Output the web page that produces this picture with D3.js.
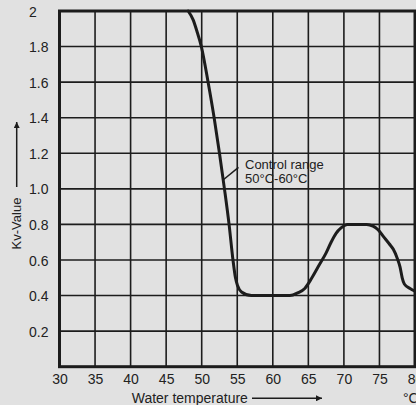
<!DOCTYPE html>
<html><head><meta charset="utf-8">
<script src="https://cdn.jsdelivr.net/npm/d3@7"></script>
<style>html,body{margin:0;padding:0;background:#e1e1e1;overflow:hidden}</style>
</head><body>
<script>
const temps = [48.1, 48.8, 49.3, 49.95, 50.9, 51.75, 52.5, 53.2, 53.85, 54.4, 54.75, 55.05, 55.6, 57.0, 62.4, 63.5, 64.5, 65.5, 66.5, 67.5, 68.2, 68.9, 69.6, 70.5, 73.2, 74.1, 74.8, 75.6, 76.4, 76.95, 77.5, 77.9, 78.2, 78.5, 79.3, 80.0];
const kv    = [2.0, 1.95, 1.89, 1.8, 1.6, 1.4, 1.2, 1.0, 0.8, 0.6, 0.5, 0.455, 0.42, 0.40, 0.40, 0.415, 0.44, 0.50, 0.57, 0.64, 0.70, 0.75, 0.78, 0.80, 0.80, 0.79, 0.77, 0.73, 0.69, 0.66, 0.61, 0.56, 0.50, 0.465, 0.44, 0.425];
const xTicks = [30, 35, 40, 45, 50, 55, 60, 65, 70, 75, 80];
const yTicks = [0.2, 0.4, 0.6, 0.8, 1.0, 1.2, 1.4, 1.6, 1.8, 2];
const yLabels = ["0.2", "0.4", "0.6", "0.8", "1.0", "1.2", "1.4", "1.6", "1.8", "2"];
const xTitle = "Water temperature";
const yTitle = "Kv-Value";
const unit = "°C";
const noteLines = ["Control range", "50°C-60°C"];

const W = 416, H = 405;
const ink = "#1c1c1c";
const font = "'Liberation Sans', Arial, sans-serif";
const x = d3.scaleLinear().domain([30, 80]).range([59.5, 415]);
const y = d3.scaleLinear().domain([0, 2]).range([366.7, 11]);

const svg = d3.select("body").append("svg").attr("width", W).attr("height", H)
  .style("font-family", font);
svg.append("rect").attr("width", W).attr("height", H).attr("fill", "#e1e1e1");

svg.append("defs").append("marker").attr("id", "ah").attr("viewBox", "0 0 10 10")
  .attr("refX", 10).attr("refY", 5).attr("markerWidth", 10).attr("markerHeight", 6)
  .attr("markerUnits", "userSpaceOnUse").attr("orient", "auto")
  .append("path").attr("d", "M0,0L10,5L0,10Z").attr("fill", ink);

// grid
const g = svg.append("g");
g.selectAll(".vg").data(xTicks.slice(1, -1)).join("line")
  .attr("x1", d => x(d)).attr("x2", d => x(d)).attr("y1", y(0)).attr("y2", y(2))
  .attr("stroke", ink).attr("stroke-width", 1.6);
g.selectAll(".hg").data(yTicks.slice(0, -1)).join("line")
  .attr("y1", d => y(d)).attr("y2", d => y(d)).attr("x1", x(30)).attr("x2", x(80))
  .attr("stroke", ink).attr("stroke-width", 1.6);

// curve
const line = d3.line().x((d, i) => x(temps[i])).y(d => y(d)).curve(d3.curveMonotoneX);
svg.append("path").attr("d", line(kv)).attr("fill", "none").attr("stroke", ink)
  .attr("stroke-width", 3).attr("stroke-linejoin", "round").attr("stroke-linecap", "round");

// frame
svg.append("rect").attr("x", x(30)).attr("y", y(2)).attr("width", x(80) - x(30)).attr("height", y(0) - y(2))
  .attr("fill", "none").attr("stroke", ink).attr("stroke-width", 3);

// axes (labels only)
const xa = svg.append("g").attr("transform", `translate(0,${y(0)})`)
  .call(d3.axisBottom(x).tickValues(xTicks).tickSize(0).tickPadding(0).tickFormat(d3.format("d")));
xa.select(".domain").remove();
xa.selectAll("text").attr("y", 17.3).attr("dy", null).attr("font-size", 14).attr("fill", "#222").attr("font-family", font);

const ya = svg.append("g").attr("transform", `translate(${x(30)},0)`)
  .call(d3.axisLeft(y).tickValues(yTicks).tickSize(0).tickFormat((d, i) => yLabels[i]));
ya.select(".domain").remove();
ya.selectAll("text").attr("x", 29 - x(30)).attr("text-anchor", "start").attr("dy", "0.36em")
  .attr("font-size", 14).attr("fill", "#222").attr("font-family", font);

// y title + arrow
svg.append("text").attr("transform", "translate(21,223.5) rotate(-90)").attr("text-anchor", "middle")
  .attr("font-size", 13).attr("fill", "#222").text(yTitle);
svg.append("line").attr("x1", 16.7).attr("x2", 16.7).attr("y1", 187).attr("y2", 122)
  .attr("stroke", ink).attr("stroke-width", 1.5).attr("marker-end", "url(#ah)");

// x title + arrow
svg.append("text").attr("x", 131.7).attr("y", 403).attr("font-size", 14).attr("fill", "#222").text(xTitle);
svg.append("line").attr("x1", 252).attr("x2", 322).attr("y1", 398.3).attr("y2", 398.3)
  .attr("stroke", ink).attr("stroke-width", 1.5).attr("marker-end", "url(#ah)");
svg.append("text").attr("x", 403).attr("y", 403).attr("font-size", 14).attr("fill", "#222").text(unit);

// annotation
svg.append("line").attr("x1", x(53.0)).attr("y1", y(1.05)).attr("x2", 238.5).attr("y2", 167.3)
  .attr("stroke", ink).attr("stroke-width", 1.5);
const nt = svg.append("text").attr("x", 245).attr("y", 169.3).attr("font-size", 13).attr("fill", "#222");
nt.selectAll("tspan").data(noteLines).join("tspan").attr("x", 245).attr("dy", (d, i) => i ? 13.4 : 0).text(d => d);
</script>
</body></html>
